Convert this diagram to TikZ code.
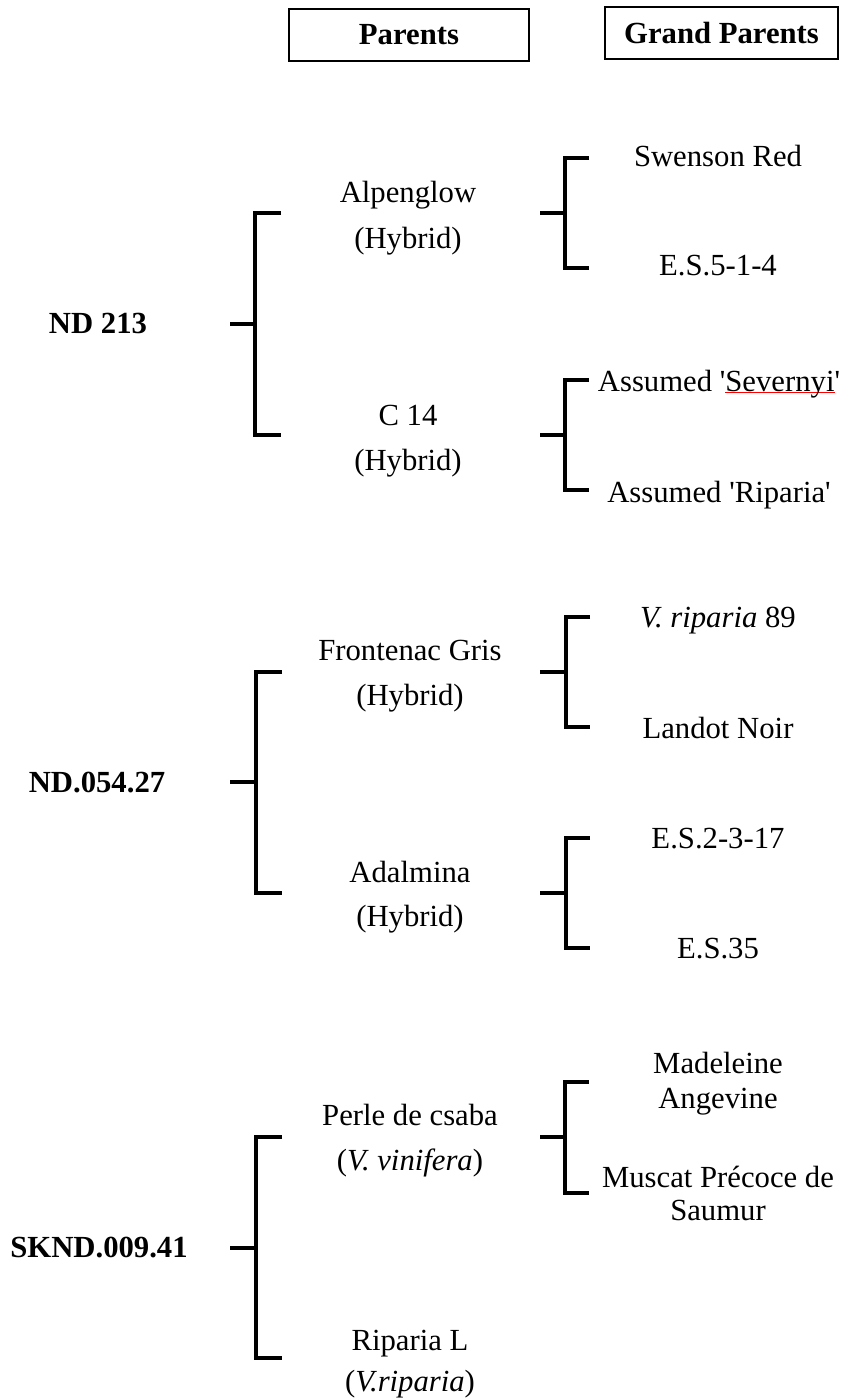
\documentclass[tikz,border=0pt]{standalone}
\usepackage{fontspec}
\setmainfont{Liberation Serif}[Ligatures=TeXOff]
\newcommand\redunder[1]{\setbox0\hbox{#1}\rlap{\color{red}\rule[-2.4pt]{\wd0}{1pt}}\box0}
\begin{document}
\begin{tikzpicture}[x=1pt,y=-1pt,
  txt/.style={anchor=base,inner sep=0pt,font=\fontsize{30.7}{35}\selectfont},
  bold/.style={txt,font=\fontsize{30.7}{35}\selectfont\bfseries},
  hdr/.style={draw,line width=2.5pt,inner sep=0pt,font=\fontsize{30.7}{35}\selectfont\bfseries},
  brk/.style={line width=3.5pt,line cap=butt,line join=miter}]
\useasboundingbox (0,0) rectangle (843,1399);
% headers
\node[hdr,minimum width=240pt,minimum height=52pt] (hpar) at (409,35) {Parents};
\node[hdr,minimum width=233pt,minimum height=52pt] (hgp) at (721.5,33) {Grand Parents};
% left names
\node[bold] (nd213) at (98,333) {ND 213};
\node[bold] (nd054) at (97,792) {ND.054.27};
\node[bold] (sknd) at (99,1257) {SKND.009.41};
% parents
\node[txt] (alp) at (408,203) {Alpenglow};
\node[txt] (alph) at (408,248) {(Hybrid)};
\node[txt] (c14) at (408,425) {C 14};
\node[txt] (c14h) at (408,470) {(Hybrid)};
\node[txt] (fro) at (410,660) {Frontenac Gris};
\node[txt] (froh) at (410,705) {(Hybrid)};
\node[txt] (ada) at (410,882) {Adalmina};
\node[txt] (adah) at (410,926) {(Hybrid)};
\node[txt] (per) at (410,1125) {Perle de csaba};
\node[txt] (perv) at (410,1170) {(\textit{V. vinifera})};
\node[txt] (rip) at (410,1350) {Riparia L};
\node[txt] (ripv) at (410,1391) {(\textit{V.riparia})};
% grand parents
\node[txt] (swe) at (718,167) {Swenson Red};
\node[txt] (es514) at (718,275) {E.S.5-1-4};
\node[txt] (sev) at (719,391) {Assumed '\redunder{Severnyi}'};
\node[txt] (asr) at (719,502) {Assumed 'Riparia'};
\node[txt] (vr89) at (718,627) {\textit{V. riparia} 89};
\node[txt] (lan) at (718,738) {Landot Noir};
\node[txt] (es2) at (718,848) {E.S.2-3-17};
\node[txt] (es35) at (718,958) {E.S.35};
\node[txt] (mad) at (718,1073) {Madeleine};
\node[txt] (ang) at (718,1108) {Angevine};
\node[txt] (mus) at (718,1187) {Muscat Précoce de};
\node[txt] (sau) at (718,1220) {Saumur};
% bracket coordinates: parent level
\coordinate (p1s) at (230,324); \coordinate (p1t) at (281,213); \coordinate (p1b) at (281,435);
\coordinate (p2s) at (230,782); \coordinate (p2t) at (282,672); \coordinate (p2b) at (282,893);
\coordinate (p3s) at (230,1248); \coordinate (p3t) at (282,1137); \coordinate (p3b) at (282,1358);
\draw[brk] (p1s) -- (255,324);
\draw[brk] (p1t) -- (255,213) -- (255,435) -- (p1b);
\draw[brk] (p2s) -- (256,782);
\draw[brk] (p2t) -- (256,672) -- (256,893) -- (p2b);
\draw[brk] (p3s) -- (256,1248);
\draw[brk] (p3t) -- (256,1137) -- (256,1358) -- (p3b);
% bracket coordinates: grandparent level
\coordinate (g1s) at (540,213); \coordinate (g1t) at (589,158); \coordinate (g1b) at (589,268);
\coordinate (g2s) at (540,435); \coordinate (g2t) at (589,380); \coordinate (g2b) at (589,490);
\coordinate (g3s) at (540,672); \coordinate (g3t) at (590,617); \coordinate (g3b) at (590,727);
\coordinate (g4s) at (540,893); \coordinate (g4t) at (590,838); \coordinate (g4b) at (590,948);
\coordinate (g5s) at (540,1137); \coordinate (g5t) at (589,1082); \coordinate (g5b) at (589,1193);
\draw[brk] (g1s) -- (565,213); \draw[brk] (g1t) -- (565,158) -- (565,268) -- (g1b);
\draw[brk] (g2s) -- (565,435); \draw[brk] (g2t) -- (565,380) -- (565,490) -- (g2b);
\draw[brk] (g3s) -- (566,672); \draw[brk] (g3t) -- (566,617) -- (566,727) -- (g3b);
\draw[brk] (g4s) -- (566,893); \draw[brk] (g4t) -- (566,838) -- (566,948) -- (g4b);
\draw[brk] (g5s) -- (565,1137); \draw[brk] (g5t) -- (565,1082) -- (565,1193) -- (g5b);
\end{tikzpicture}
\end{document}
